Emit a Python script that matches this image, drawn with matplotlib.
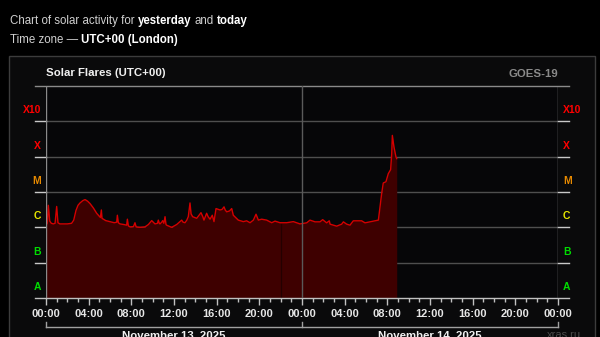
import numpy as np
import matplotlib
matplotlib.use("Agg")
import matplotlib.pyplot as plt
from matplotlib.patches import Rectangle

plt.rcParams["font.family"] = ["Liberation Sans", "DejaVu Sans"]

W, H = 600, 337

# X-ray flux (W/m^2) vs hours since 2025-11-13 00:00 UTC
hours = [0.00, 0.12, 0.22, 0.35, 0.50, 0.69, 0.85, 1.00, 1.12, 1.30, 1.63, 2.00, 2.40, 2.60,
         2.81, 3.00, 3.19, 3.45, 3.66, 3.90, 4.13, 4.45, 4.75, 5.10, 5.19, 5.25, 5.60, 6.00,
         6.40, 6.63, 6.69, 6.78, 6.94, 7.30, 7.56, 7.63, 7.72, 7.88, 8.20, 8.34, 8.45, 8.81,
         9.28, 9.60, 9.91, 10.22, 10.45, 10.53, 10.62, 10.69, 10.85, 10.94, 11.05, 11.16,
         11.25, 11.31, 11.78, 12.25, 12.72, 12.85, 13.03, 13.20, 13.34, 13.50, 13.60, 13.75,
         14.13, 14.35, 14.53, 14.70, 14.81, 15.06, 15.20, 15.38, 15.59, 15.75, 15.94, 16.31,
         16.50, 16.69, 16.80, 16.94, 17.20, 17.41, 17.56, 18.03, 18.50, 18.81, 19.13, 19.44,
         19.69, 19.91, 20.22, 20.69, 21.16, 21.47, 21.94, 22.30, 22.56, 23.19, 23.81,
         24.44, 24.75, 25.22, 25.69, 25.94, 26.31, 26.56, 26.63, 27.25, 27.72, 27.88, 28.19,
         28.50, 28.81, 29.59, 29.91, 30.38, 30.84, 31.16, 31.31, 31.47, 31.62, 31.87, 32.09,
         32.31, 32.41, 32.47, 32.62, 32.81, 32.88]
flux = [1.15e-6, 1.3e-6, 4.2e-6, 1.5e-6, 1.3e-6, 1.25e-6, 1.3e-6, 3.9e-6, 1.35e-6, 1.25e-6,
        1.25e-6, 1.25e-6, 1.3e-6, 1.6e-6, 3.0e-6, 4.2e-6, 4.9e-6, 5.7e-6, 6.1e-6, 5.5e-6,
        4.7e-6, 3.5e-6, 2.5e-6, 1.9e-6, 3.1e-6, 1.8e-6, 1.55e-6, 1.45e-6, 1.35e-6, 1.4e-6,
        2.2e-6, 1.35e-6, 1.25e-6, 1.2e-6, 1.15e-6, 1.7e-6, 1.1e-6, 1.03e-6, 1.05e-6, 1.35e-6,
        1.03e-6, 1.0e-6, 1.03e-6, 1.2e-6, 1.55e-6, 1.25e-6, 1.3e-6, 1.6e-6, 1.3e-6, 1.25e-6,
        1.4e-6, 1.55e-6, 1.3e-6, 2.0e-6, 1.2e-6, 1.15e-6, 1.0e-6, 1.2e-6, 1.6e-6, 1.4e-6,
        1.35e-6, 1.6e-6, 2.0e-6, 4.9e-6, 2.4e-6, 2.0e-6, 1.8e-6, 2.2e-6, 2.6e-6, 2.0e-6,
        1.6e-6, 2.5e-6, 2.0e-6, 1.7e-6, 2.2e-6, 1.45e-6, 3.4e-6, 3.1e-6, 3.2e-6, 3.8e-6,
        3.1e-6, 2.75e-6, 2.9e-6, 3.4e-6, 2.2e-6, 1.6e-6, 1.45e-6, 1.53e-6, 1.35e-6, 1.6e-6,
        2.35e-6, 1.6e-6, 1.7e-6, 1.6e-6, 1.35e-6, 1.5e-6, 1.35e-6, 1.35e-6, 1.35e-6, 1.45e-6,
        1.25e-6, 1.34e-6, 1.6e-6, 1.43e-6, 1.43e-6, 1.65e-6, 1.34e-6, 1.53e-6, 1.23e-6,
        1.08e-6, 1.23e-6, 1.43e-6, 1.23e-6, 1.15e-6, 1.53e-6, 1.53e-6, 1.34e-6, 1.43e-6,
        1.53e-6, 1.6e-6, 3.8e-6, 9.1e-6, 1.8e-5, 1.95e-5, 3.3e-5, 4.3e-5, 1.2e-4, 4.0e-4,
        1.9e-4, 9.8e-5, 8.8e-5]
gap_hours = [22.03]

level_names = ["A", "B", "C", "M", "X", "X10"]
level_colors = ["#00dd00", "#00dd00", "#e6e600", "#e88a00", "#ff0000", "#ff0000"]
tick_labels = ["00:00", "04:00", "08:00", "12:00", "16:00", "20:00", "00:00",
               "04:00", "08:00", "12:00", "16:00", "20:00", "00:00"]
day_labels = ["November 13, 2025", "November 14, 2025"]

fig = plt.figure(figsize=(W / 100, H / 100), dpi=100, facecolor="black")

# outer panel
fig.patches.append(Rectangle((9 / W, -0.1), 586 / W, 1 - 56 / H + 0.1, transform=fig.transFigure,
                             facecolor="#0a0a0b", edgecolor="#3c3c3c", lw=1, zorder=-5))

ax = fig.add_axes([46 / W, 1 - 298 / H, 512 / W, 212 / H], facecolor="#060608")
ax.set_zorder(2)
ax.set_yscale("log")
ax.set_xlim(0, 48)
ax.set_ylim(1e-8, 1e-2)
for s in ax.spines.values():
    s.set_visible(False)

ext = 11 * 48 / 512  # stub length in hours
for k in range(-7, -2):
    v = 10.0 ** k
    ax.plot([0, 48], [v, v], color="#4e4e4e", lw=1, zorder=1)
    ax.plot([-ext, 0], [v, v], color="#c8c8c8", lw=1, clip_on=False, zorder=1)
    ax.plot([48, 48 + ext], [v, v], color="#c8c8c8", lw=1, clip_on=False, zorder=1)
ax.plot([-ext, 48 + ext], [1e-2, 1e-2], color="#8a8a8a", lw=1, clip_on=False, zorder=1)
ax.plot([-ext, 48 + ext], [1e-8, 1e-8], color="#c0c0c0", lw=1, clip_on=False, zorder=4)

ax.fill_between(hours, 1e-8, flux, color="#3e0000", lw=0, zorder=2)
ax.plot(hours, flux, color="#d40000", lw=1, zorder=3)
for g in gap_hours:
    ax.vlines(g, 1e-8, np.interp(g, hours, flux), color="#230000", lw=0.9, zorder=2.5)

ax.axvline(0, color="#8a8a8a", lw=1, zorder=4)
ax.axvline(48, color="#8a8a8a", lw=1, zorder=4)
ax.axvline(24, color="#5a5a5a", lw=1, zorder=4)

# flare class labels
for i, (name, c) in enumerate(zip(level_names, level_colors)):
    yv = 10.0 ** (-8 + i + 0.31)
    ax.text(-0.0098, yv, name, transform=ax.get_yaxis_transform(), ha="right", va="center",
            color=c, fontsize=7.5, fontweight="bold")
    ax.text(1.0098, yv, name, transform=ax.get_yaxis_transform(), ha="left", va="center",
            color=c, fontsize=7.5, fontweight="bold")

ax.set_xticks(range(0, 49, 4))
ax.set_xticks(range(0, 49, 1), minor=True)
ax.set_xticklabels(tick_labels, fontweight="bold")
ax.tick_params(axis="x", which="major", length=5, width=1, color="#c0c0c0", labelcolor="#e6e6e6",
               labelsize=8, pad=3)
ax.tick_params(axis="x", which="minor", length=3, width=1, color="#c0c0c0")
ax.tick_params(axis="y", which="both", left=False, right=False, labelleft=False)

# date bracket
xt = ax.get_xaxis_transform()
yb = (298 - 327) / 212
ax.plot([0, 48], [yb, yb], color="#a0a0a0", lw=1, transform=xt, clip_on=False)
for xv in (0, 24, 48):
    ax.plot([xv, xv], [yb, (298 - 322) / 212], color="#a0a0a0", lw=1, transform=xt, clip_on=False)
yd = (298 - 338) / 212
for xv, lbl in zip((12, 36), day_labels):
    ax.text(xv, yd, lbl, transform=xt, ha="center", va="baseline", color="#f0f0f0",
            fontsize=8.2, fontweight="bold")
ax.text((581 - 46) / 512, yd, "xras.ru", transform=ax.transAxes, ha="right", va="baseline",
        color="#4a4a4a", fontsize=8)

ax.text(0, (298 - 76) / 212, "Solar Flares (UTC+00)", transform=ax.transAxes, ha="left",
        va="baseline", color="#f0f0f0", fontsize=8.2, fontweight="bold")
ax.text(1, (298 - 77) / 212, "GOES-19", transform=ax.transAxes, ha="right", va="baseline",
        color="#8a8a8a", fontsize=8.2, fontweight="bold")

# header lines with mixed weights
r = fig.canvas.get_renderer()
FS = 8.3


def width(s, bold):
    fw = "bold" if bold else "normal"
    t = fig.text(0, 0, "|" + s + "|", fontsize=FS, fontweight=fw)
    t2 = fig.text(0, 0, "||", fontsize=FS, fontweight=fw)
    w = t.get_window_extent(r).width - t2.get_window_extent(r).width
    t.remove(); t2.remove()
    return w


space = width("a a", False) - width("aa", False)


def rich_line(x_px, y_px, parts):
    x = x_px
    for s, bold in parts:
        fig.text(x / W, 1 - y_px / H, s, fontsize=FS, va="baseline",
                 fontweight="bold" if bold else "normal",
                 color="#ffffff" if bold else "#d0d0d0")
        x += width(s, bold) + space


rich_line(10, 24, [("Chart of solar activity for", False), ("yesterday", True),
                   ("and", False), ("today", True)])
rich_line(10, 43.3, [("Time zone \u2014", False), ("UTC+00 (London)", True)])

fig.savefig("out.png", dpi=100, facecolor=fig.get_facecolor())
